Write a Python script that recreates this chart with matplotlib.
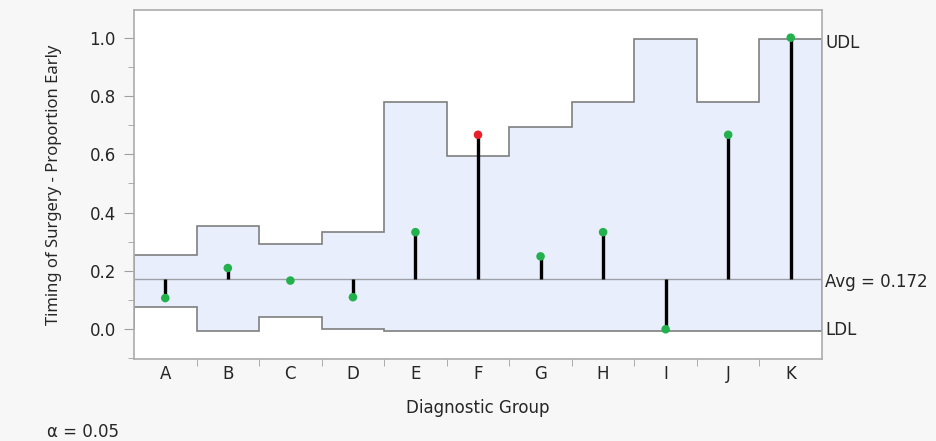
import numpy as np
import matplotlib
matplotlib.use("Agg")
import matplotlib.pyplot as plt
from matplotlib.transforms import blended_transform_factory

groups = ["A", "B", "C", "D", "E", "F", "G", "H", "I", "J", "K"]
proportions = [0.107, 0.210, 0.167, 0.110, 0.333, 0.667, 0.250, 0.333, 0.0, 0.667, 1.0]
udl = [0.254, 0.354, 0.291, 0.333, 0.781, 0.594, 0.695, 0.781, 0.995, 0.781, 0.995]
ldl = [0.076, -0.006, 0.042, 0.0, -0.005, -0.005, -0.005, -0.005, -0.005, -0.005, -0.005]
avg = 0.172
out_of_limits = ["F"]
yticks = [0.0, 0.2, 0.4, 0.6, 0.8, 1.0]
yminor = [-0.1, 0.1, 0.3, 0.5, 0.7, 0.9]

plt.rcParams['font.family'] = ['DejaVu Sans']
TXT = "#262626"

fig = plt.figure(figsize=(9.36, 4.41), dpi=100, facecolor="#f7f7f7")
ax = fig.add_axes([134/936, 1-359/441, 688/936, 349/441])
ax.set_facecolor("white")

n = len(groups)
edges = np.arange(n + 1)
centers = np.arange(n) + 0.5

ax.stairs(udl, edges, baseline=ldl, fill=True, color="#e8eefc", zorder=1)
ax.stairs(udl, edges, color="#7f7f7f", lw=1.2, zorder=2)
ax.stairs(ldl, edges, color="#7f7f7f", lw=1.2, zorder=2)
ax.axhline(avg, color="#9ea0a8", lw=1.0, zorder=2)

ax.vlines(centers, avg, proportions, color="black", lw=2.4, zorder=3)
cols = ["#e8202a" if g in out_of_limits else "#22b14c" for g in groups]
ax.scatter(centers, proportions, s=38, c=cols, zorder=4, edgecolors="none")

ax.set_xlim(0, n)
ax.set_ylim(-0.102, 1.095)
ax.set_xticks(centers)
ax.set_xticklabels(groups)
ax.set_xticks(edges[1:-1], minor=True)
ax.tick_params(axis="x", which="major", length=0, labelsize=12, labelcolor=TXT, pad=4.5)
ax.tick_params(axis="x", which="minor", length=5, color="#a0a0a0")

ax.set_yticks(yticks)
ax.set_yticklabels([f"{v:.1f}" for v in yticks])
ax.set_yticks(yminor, minor=True)
ax.tick_params(axis="y", which="major", length=7, color="#a0a0a0", labelsize=12, labelcolor=TXT, pad=6)
ax.tick_params(axis="y", which="minor", length=4, color="#a0a0a0")

for s in ax.spines.values():
    s.set_color("#acacac")
    s.set_linewidth(1.2)

ax.set_ylabel("Timing of Surgery - Proportion Early", fontsize=12, color=TXT,
              family=["Noto Sans", "DejaVu Sans"])
ax.yaxis.set_label_coords((62 - 134) / 688, 0.5)
ax.set_xlabel("Diagnostic Group", fontsize=12, color=TXT)
ax.xaxis.set_label_coords(0.5, -(408 - 359) / 349)
ax.xaxis.label.set_va("center")

tr = blended_transform_factory(ax.transAxes, ax.transData)
ax.text(1.005, udl[-1] - 0.012, "UDL", transform=tr, va="center", ha="left", fontsize=12, color=TXT)
ax.text(1.005, avg - 0.01, f"Avg = {avg:.3f}", transform=tr, va="center", ha="left", fontsize=12, color=TXT)
ax.text(1.005, ldl[-1] + 0.002, "LDL", transform=tr, va="center", ha="left", fontsize=12, color=TXT)

fig.text(47/936, 1-432/441, "α = 0.05", fontsize=12, color=TXT, va="center", ha="left")

fig.savefig("out.png", dpi=100, facecolor=fig.get_facecolor())
